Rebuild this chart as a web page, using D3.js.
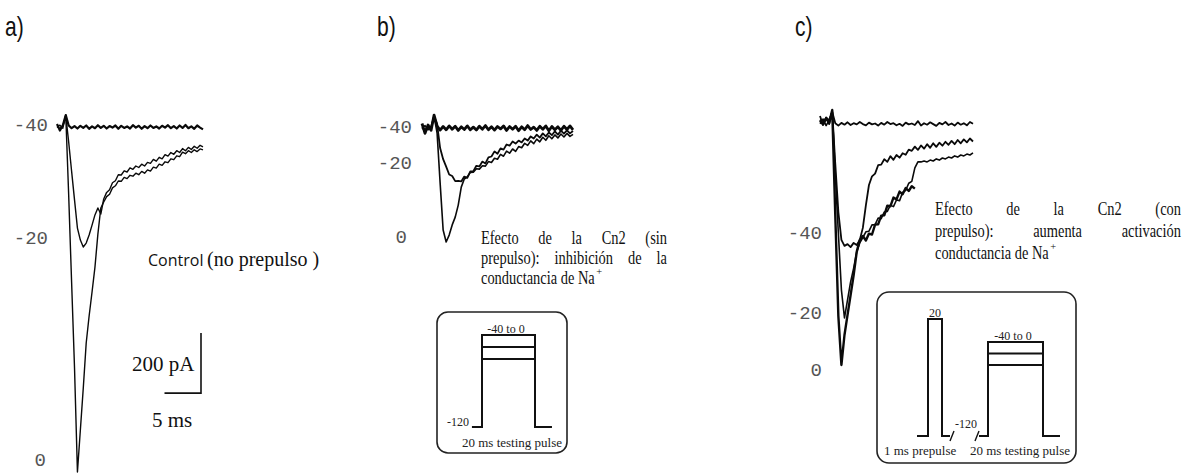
<!DOCTYPE html>
<html>
<head>
<meta charset="utf-8">
<script src="https://cdn.jsdelivr.net/npm/d3@7"></script>
<style>
  body { margin: 0; background: #fff; }
  svg { display: block; }
</style>
</head>
<body>
<div id="fig"></div>
<script>
// sample times of every current trace (ms)
const timeMs = [0, 0.4, 0.8, 1.2, 1.6, 2, 2.4, 2.8, 3.2, 3.6, 4, 4.4, 4.8, 5.2, 5.6, 6, 6.4, 6.8, 7.2, 7.6,
  8, 8.4, 8.8, 9.2, 9.6, 10, 10.4, 10.8, 11.2, 11.6, 12, 12.4, 12.8, 13.2, 13.6, 14, 14.4, 14.8, 15.2, 15.6,
  16, 16.4, 16.8, 17.2, 17.6, 18, 18.4, 18.8, 19.2, 19.6, 20];

// test potential of each trace (mV)
const voltLabels = ["-40", "-20", "0"];

// panel a: control, no prepulse (pA)
const aMinus40 = [10, -12, 6, 40, 5, -4, 3, -5, 4, -3, 5, -6, 2, -4, 6, -3, 4, -5, 3, -2, 5, -6, 4, -3, 2,
  -5, 6, -2, 4, -6, 3, -4, 5, -3, 2, -5, 4, -2, 6, -4, 3, -5, 5, -3, 7, -4, 2, -6, 5, -2, -8];
const aMinus20 = [0, -5, 4, 38, -50, -147, -243, -337, -377, -400, -387, -360, -327, -293, -270, -290, -240,
  -218, -209, -186, -179, -159, -160, -146, -150, -136, -141, -130, -135, -124, -130, -118, -121, -108, -114,
  -101, -106, -92, -97, -85, -91, -79, -85, -72, -79, -68, -75, -64, -71, -61, -66];
const aZero = [0, 6, -4, 40, -227, -517, -803, -1150, -1010, -870, -720, -630, -550, -467, -357, -270, -250,
  -232, -224, -203, -196, -180, -181, -168, -172, -161, -164, -154, -159, -148, -154, -143, -147, -134, -137,
  -124, -128, -116, -119, -106, -109, -96, -99, -84, -89, -79, -85, -76, -82, -73, -76];

// panel b: Cn2 without prepulse (pA)
const bMinus40 = [15, -18, 10, -8, 43, 6, -7, 5, -6, 7, -4, 6, -8, 4, -5, 7, -6, 3, -7, 6, -4, 8, -6, 4, -7,
  5, -3, 7, -8, 5, -4, 6, -9, 4, -6, 8, -5, 3, -8, 6, -4, 7, -9, 5, -6, 4, -8, 6, -5, 7, -6];
const bMinus20 = [0, -7, 6, -3, 38, 13, -67, -104, -129, -155, -160, -177, -176, -178, -162, -166, -145, -144,
  -126, -128, -112, -118, -98, -95, -78, -86, -68, -72, -55, -59, -45, -52, -42, -48, -35, -42, -28, -35, -22,
  -32, -18, -28, -15, -24, -11, -22, -9, -19, -8, -18, -10];
const bZero = [0, 8, -6, 5, 40, -17, -183, -340, -380, -357, -323, -297, -257, -197, -170, -163, -148, -147,
  -136, -137, -126, -127, -112, -115, -101, -104, -88, -94, -77, -84, -70, -78, -62, -66, -51, -58, -43, -52,
  -37, -46, -31, -41, -26, -36, -23, -33, -20, -30, -18, -28, -21];

// panel c: Cn2 with prepulse (pA)
const cRest = [20, -10, 15, 5, 33, -4, -12, -3, -9, -1, -10, -4, -8, 0, -7, -11, -2, -8, -5, -12, -3, -9, 0,
  -7, -4, -11, -6, -13, -2, -8, -5, -10, 3, -12, -4, -9, -1, -7, -13, -3, -8, 0, -10, -5, -12, -2, -9, -4,
  -11, 0, -6];
const cMinus40 = [8, -5, 14, -7, 35, -140, -300, -393, -413, -407, -417, -403, -410, -393, -353, -277, -210,
  -181, -172, -144, -142, -124, -133, -114, -126, -110, -119, -104, -109, -92, -96, -82, -93, -78, -89, -74,
  -86, -71, -83, -69, -79, -66, -76, -63, -74, -60, -71, -58, -68, -55, -65];
const cMinus20 = [-6, 10, -12, 6, 35, -173, -370, -560, -653, -593, -533, -487, -433, -403, -385, -366, -364,
  -343, -342, -320, -322, -300, -298, -277, -282, -260, -262, -235, -228, -204, -198, -153, -133, -133, -130,
  -133, -127, -130, -123, -127, -120, -123, -117, -120, -113, -117, -110, -113, -107, -110, -103];
const cZero = [5, -8, 12, -3, 40, -313, -647, -810, -710, -643, -577, -510, -433, -393, -380, -395, -372,
  -375, -342, -341, -312, -311, -279, -281, -252, -258, -232, -241, -220, -230, -214, -222];

// captions
const captionA = ["Control", "(no prepulso )"];
const captionB = ["Efecto de la Cn2 (sin", "prepulso): inhibición de la", "conductancia de Na"];
const captionC = ["Efecto de la Cn2 (con", "prepulso): aumenta activación", "conductancia de Na"];

// pulse protocol (mV)
const holdingLevel = -120;
const testLevels = [0, -20, -40];
const prepulseLevel = 20;

const W = 1187, H = 474;
const svg = d3.select("#fig").append("svg").attr("width", W).attr("height", H);

const serif = "'Liberation Serif', 'Times New Roman', serif";
const mono = "'Liberation Mono', 'Courier New', monospace";

// text squeezed horizontally (the source figure is condensed)
function narrowText(x, y, t, fs, family, sx) {
  const el = svg.append("text")
    .attr("transform", `translate(${x},${y}) scale(${sx},1)`)
    .attr("font-family", family).attr("font-size", fs).attr("fill", "#111").text(t);
  return el.node().getComputedTextLength() * sx;
}

// panel letters
[["a)", 5], ["b)", 377], ["c)", 795]].forEach(([t, x]) => {
  narrowText(x, 36, t, 27, "'Liberation Sans', Arial, sans-serif", 0.78);
});

const panels = [
  { xRange: [57, 203], yMin: -1150, yRange: [127, 472],
    traces: [ { v: aMinus40, w: 2.2 }, { v: aMinus20, w: 1.4 }, { v: aZero, w: 1.4 } ],
    labels: [ [48, 131], [48, 244], [46, 466] ] },
  { xRange: [422, 573], yMin: -380, yRange: [128, 242],
    traces: [ { v: bMinus40, w: 2.8 }, { v: bMinus20, w: 1.8 }, { v: bZero, w: 1.6 } ],
    labels: [ [412, 133], [412, 169], [407, 243] ] },
  { xRange: [820, 973], yMin: -800, yRange: [122, 362],
    traces: [ { v: cRest, w: 1.8 }, { v: cMinus40, w: 1.8 }, { v: cMinus20, w: 1.6 }, { v: cZero, w: 2.4 } ],
    labels: [ [822, 239], [822, 319], [822, 376] ] }
];

panels.forEach(p => {
  const x = d3.scaleLinear().domain([0, 20]).range(p.xRange);
  const y = d3.scaleLinear().domain([0, p.yMin]).range(p.yRange);
  p.x = x; p.y = y;
  const line = d3.line().x((d, i) => x(timeMs[i])).y(d => y(d));
  const g = svg.append("g");
  g.selectAll("path")
    .data(p.traces)
    .join("path")
    .attr("d", d => line(d.v))
    .attr("fill", "none")
    .attr("stroke", "#0a0a0a")
    .attr("stroke-width", d => d.w)
    .attr("stroke-linejoin", "round");
  g.selectAll("text")
    .data(voltLabels)
    .join("text")
    .attr("x", (d, i) => p.labels[i][0])
    .attr("y", (d, i) => p.labels[i][1])
    .attr("text-anchor", "end")
    .attr("font-family", mono)
    .attr("font-size", 19)
    .attr("fill", "#555")
    .text(d => d);
});

// scale bar in panel a: 5 ms x 200 pA
const pa = panels[0];
const barX = pa.x(20) - 2, barBottom = pa.y(-887), barTop = pa.y(-687);
svg.append("path")
  .attr("d", `M${barX},${barTop}V${barBottom}H${barX - (pa.x(5) - pa.x(0))}`)
  .attr("fill", "none").attr("stroke", "#111").attr("stroke-width", 1.6);
svg.append("text").attr("x", 132).attr("y", 371).attr("font-family", serif).attr("font-size", 21)
  .attr("fill", "#111").text("200 pA");
svg.append("text").attr("x", 152).attr("y", 427).attr("font-family", serif).attr("font-size", 21)
  .attr("fill", "#111").text("5 ms");

// caption a
svg.append("text").attr("x", 148).attr("y", 266).attr("font-family", "'Open Sans', 'Noto Sans', sans-serif")
  .attr("font-size", 16).attr("fill", "#111").text(captionA[0]);
svg.append("text").attr("x", 207).attr("y", 266).attr("font-family", serif)
  .attr("font-size", 20).attr("fill", "#111").text(captionA[1]);

// justified caption, words condensed horizontally
function justified(lines, x0, x1, y0, lh, fs, sx) {
  lines.forEach((ln, i) => {
    const yy = y0 + i * lh;
    if (i === lines.length - 1) {
      const w = narrowText(x0, yy, ln, fs, serif, sx);
      svg.append("text").attr("x", x0 + w + 1.5).attr("y", yy - fs * 0.45)
        .attr("font-family", serif).attr("font-size", fs * 0.55).attr("fill", "#111").text("+");
      return;
    }
    const words = ln.split(" ");
    const widths = words.map(w => {
      const t = svg.append("text").attr("font-family", serif).attr("font-size", fs).text(w);
      const wd = t.node().getComputedTextLength() * sx;
      t.remove();
      return wd;
    });
    const gap = (x1 - x0 - d3.sum(widths)) / (words.length - 1);
    let cx = x0;
    words.forEach((w, j) => {
      narrowText(cx, yy, w, fs, serif, sx);
      cx += widths[j] + gap;
    });
  });
}
justified(captionB, 481, 667, 244, 20, 19, 0.76);
justified(captionC, 935, 1181, 215, 22, 19, 0.76);

// protocol diagrams
function boxText(x, y, t, fs, anchor) {
  svg.append("text").attr("x", x).attr("y", y).attr("font-family", serif).attr("font-size", fs)
    .attr("text-anchor", anchor || "start").attr("fill", "#222").text(t);
}

// b: testing pulse only
svg.append("rect").attr("x", 437).attr("y", 312).attr("width", 130).attr("height", 141).attr("rx", 11)
  .attr("fill", "none").attr("stroke", "#222").attr("stroke-width", 1.6);
const vB = d3.scaleLinear().domain([-120, -40, 0]).range([427, 359, 335]);
const tB = d3.scaleLinear().domain([0, 20]).range([482, 535]);
svg.append("path")
  .attr("d", `M${tB(-3.8)},${vB(holdingLevel)}H${tB(0)}V${vB(0)}H${tB(20)}V${vB(holdingLevel)}H${tB(26.4)}`)
  .attr("fill", "none").attr("stroke", "#111").attr("stroke-width", 2);
svg.selectAll(".lvB").data(testLevels.slice(1)).join("line").attr("class", "lvB")
  .attr("x1", tB(0)).attr("x2", tB(20)).attr("y1", d => vB(d)).attr("y2", d => vB(d))
  .attr("stroke", "#111").attr("stroke-width", 2);
boxText(506, 333, "-40 to 0", 12, "middle");
boxText(447, 426, "-120", 12);
boxText(462, 447, "20 ms testing pulse", 13);

// c: prepulse + testing pulse
svg.append("rect").attr("x", 877).attr("y", 292).attr("width", 199).attr("height", 171).attr("rx", 12)
  .attr("fill", "none").attr("stroke", "#222").attr("stroke-width", 1.6);
const vC = d3.scaleLinear().domain([-120, -40, 0, 20]).range([436, 365, 342, 319]);
const tC = d3.scaleLinear().domain([0, 20]).range([988, 1043]);
const base = vC(holdingLevel);
svg.append("path")
  .attr("d", `M917,${base}H928V${vC(prepulseLevel)}H942V${base}H950` +
    `M979,${base}H${tC(0)}V${vC(0)}H${tC(20)}V${base}H1060`)
  .attr("fill", "none").attr("stroke", "#111").attr("stroke-width", 2);
svg.append("path")
  .attr("d", `M950,${base + 5}L954,${base - 5}M975,${base + 5}L979,${base - 5}`)
  .attr("fill", "none").attr("stroke", "#111").attr("stroke-width", 1.4);
svg.selectAll(".lvC").data(testLevels.slice(1)).join("line").attr("class", "lvC")
  .attr("x1", tC(0)).attr("x2", tC(20)).attr("y1", d => vC(d)).attr("y2", d => vC(d))
  .attr("stroke", "#111").attr("stroke-width", 2);
boxText(935, 317, "20", 12, "middle");
boxText(1013, 340, "-40 to 0", 12, "middle");
boxText(955, 428, "-120", 12);
boxText(884, 455, "1 ms prepulse", 13);
boxText(970, 455, "20 ms testing pulse", 13);
</script>
</body>
</html>
